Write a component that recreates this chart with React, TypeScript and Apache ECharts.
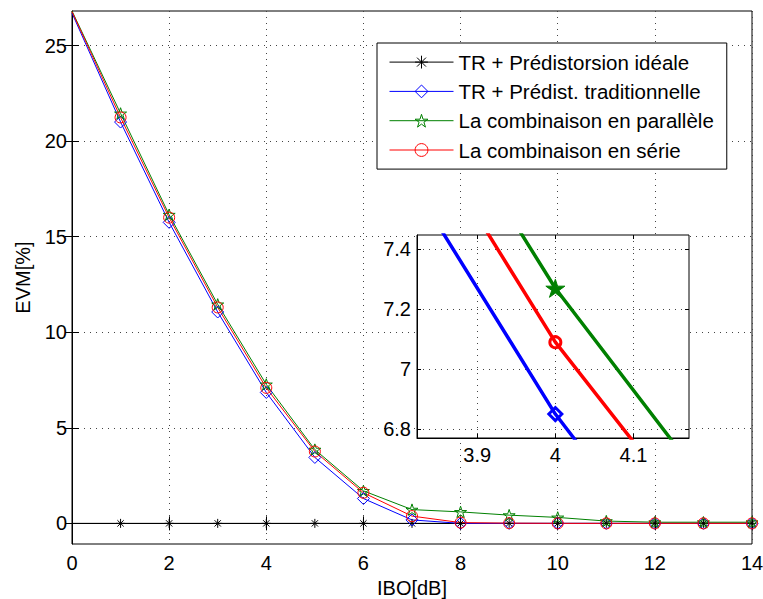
import React, { useEffect, useRef } from 'react';
import * as echarts from 'echarts';

const ibo = [0, 1, 2, 3, 4, 5, 6, 7, 8, 9, 10, 11, 12, 13, 14];
const idealEVM = [0, 0, 0, 0, 0, 0, 0, 0, 0, 0, 0, 0, 0, 0, 0];
const tradEVM = [26.7, 21.0, 15.75, 11.06, 6.85, 3.45, 1.3, 0.18, 0.0, 0, 0, 0, 0, 0, 0];
const parallelEVM = [26.81, 21.45, 16.15, 11.46, 7.27, 3.86, 1.7, 0.72, 0.6, 0.43, 0.31, 0.12, 0.06, 0.06, 0.06];
const serieEVM = [26.78, 21.24, 16.0, 11.3, 7.09, 3.76, 1.6, 0.38, 0.04, 0.01, 0, 0, 0, 0, 0];

const mainYTicks = [0, 5, 10, 15, 20, 25];
const insetXTicks = [3.9, 4, 4.1];
const insetYTicks = [6.8, 7, 7.2, 7.4];
const seriesNames = [
  'TR + Prédistorsion idéale',
  'TR + Prédist. traditionnelle',
  'La combinaison en parallèle',
  'La combinaison en série',
];
const xName = 'IBO[dB]';
const yName = 'EVM[%]';

const FONT = '"Liberation Sans", Arial, Helvetica, sans-serif';
const ASTERISK = 'path://M0,-1L0,1M-1,0L1,0M-0.7,-0.7L0.7,0.7M-0.7,0.7L0.7,-0.7';
const STAR = 'path://M0,-1L0.2245,-0.309L0.9511,-0.309L0.3633,0.118L0.5878,0.809L0,0.382L-0.5878,0.809L-0.3633,0.118L-0.9511,-0.309L-0.2245,-0.309Z';
const DIAMOND = 'path://M0,-1L1,0L0,1L-1,0Z';
const CIRCLE = 'circle';

const COLORS = ['#000000', '#0000ff', '#008000', '#ff0000'];
const SYMBOLS = [ASTERISK, DIAMOND, STAR, CIRCLE];
const SIZES = [9, 12, 12, 11];

// the first point sits on the axes' corner: MATLAB shows no marker there
const pairs = (ys: number[]) =>
  ibo.map((x, i) => (i === 0 ? { value: [x, ys[i]], symbol: 'none' } : [x, ys[i]]));

export default function App() {
  const ref = useRef<HTMLDivElement>(null);
  useEffect(() => {
    document.body.style.margin = '0';
    const chart = echarts.init(ref.current!, null, { renderer: 'svg' });
    const allData = [idealEVM, tradEVM, parallelEVM, serieEVM];

    const dotted = { color: '#444', width: 1, type: [1, 5] };

    const mainSeries = allData.map((ys, i) => ({
      type: 'line',
      name: seriesNames[i],
      data: pairs(ys),
      xAxisIndex: 0,
      yAxisIndex: 0,
      symbol: SYMBOLS[i],
      symbolSize: SIZES[i],
      symbolKeepAspect: true,
      showAllSymbol: true,
      lineStyle: { color: COLORS[i], width: 1 },
      itemStyle: { color: 'none', borderColor: COLORS[i], borderWidth: 1 },
      emphasis: { disabled: true },
      z: 2,
      clip: true,
    }));

    const insetStyles = [
      null,
      { symbol: DIAMOND, size: 13, item: { color: 'none', borderColor: COLORS[1], borderWidth: 3 } },
      { symbol: STAR, size: 19, item: { color: COLORS[2], borderColor: COLORS[2], borderWidth: 1 } },
      { symbol: CIRCLE, size: 11, item: { color: 'none', borderColor: COLORS[3], borderWidth: 3 } },
    ];
    const insetSeries = [1, 2, 3].map((i) => ({
      type: 'line',
      name: seriesNames[i],
      data: pairs(allData[i]),
      xAxisIndex: 2,
      yAxisIndex: 2,
      symbol: insetStyles[i]!.symbol,
      symbolSize: insetStyles[i]!.size,
      symbolKeepAspect: true,
      showAllSymbol: true,
      lineStyle: { color: COLORS[i], width: 3.5 },
      itemStyle: insetStyles[i]!.item,
      emphasis: { disabled: true },
      z: 12,
      clip: true,
    }));

    const labelStyle = { fontFamily: FONT, fontSize: 20, color: '#000' };

    chart.setOption({
      animation: false,
      grid: [
        {
          left: 72, top: 11, width: 680, height: 533,
          show: true, backgroundColor: '#fff', borderColor: '#000', borderWidth: 1,
          containLabel: false, outerBoundsMode: 'none', z: 0,
        },
        {
          left: 417, top: 235, width: 272, height: 203,
          show: true, backgroundColor: '#fff', borderColor: '#000', borderWidth: 1,
          containLabel: false, outerBoundsMode: 'none', z: 10,
        },
      ],
      legend: {
        orient: 'vertical',
        left: 377,
        top: 43,
        z: 20,
        itemWidth: 64,
        itemHeight: 16,
        itemGap: 8.3,
        padding: [8.6, 13, 8.6, 12],
        backgroundColor: '#fff',
        borderColor: '#000',
        borderWidth: 1,
        borderRadius: 0,
        selectedMode: false,
        textStyle: { fontFamily: FONT, fontSize: 20.5, color: '#000', lineHeight: 20 },
        data: seriesNames.map((n, i) => ({
          name: n,
          itemStyle: { color: 'none', borderColor: COLORS[i], borderWidth: 1 },
          lineStyle: { color: COLORS[i], width: 1 },
        })),
      },
      xAxis: [
        {
          type: 'value', gridIndex: 0, min: 0, max: 14, interval: 2, position: 'bottom',
          name: xName, nameLocation: 'middle', nameGap: 31, nameTextStyle: labelStyle,
          axisLine: { show: true, lineStyle: { color: '#000', width: 1 } },
          axisTick: { show: true, inside: true, length: 7, lineStyle: { color: '#000' } },
          axisLabel: { ...labelStyle, margin: 9 },
          splitLine: { show: true, lineStyle: dotted },
        },
        {
          type: 'value', gridIndex: 0, min: 0, max: 14, interval: 2, position: 'top',
          axisLine: { show: false },
          axisTick: { show: true, inside: true, length: 7, lineStyle: { color: '#000' } },
          axisLabel: { show: false },
          splitLine: { show: false },
        },
        {
          type: 'value', gridIndex: 1, min: 3.823, max: 4.171, position: 'bottom', z: 11,
          axisLine: { show: true, lineStyle: { color: '#000', width: 1 } },
          axisTick: { show: true, inside: true, length: 4, customValues: insetXTicks, lineStyle: { color: '#000' } },
          axisLabel: { ...labelStyle, margin: 7, customValues: insetXTicks },
          splitLine: { show: true, lineStyle: dotted },
        },
        {
          type: 'value', gridIndex: 1, min: 3.823, max: 4.171, position: 'top', z: 11,
          axisLine: { show: false },
          axisTick: { show: true, inside: true, length: 4, customValues: insetXTicks, lineStyle: { color: '#000' } },
          axisLabel: { show: false },
          splitLine: { show: false },
        },
      ],
      yAxis: [
        {
          type: 'value', gridIndex: 0, min: -1.08, max: 26.81, position: 'left',
          name: yName, nameLocation: 'middle', nameGap: 39, nameTextStyle: labelStyle,
          axisLine: { show: true, lineStyle: { color: '#000', width: 1 } },
          axisTick: { show: true, inside: true, length: 7, customValues: mainYTicks, lineStyle: { color: '#000' } },
          axisLabel: { ...labelStyle, margin: 5, customValues: mainYTicks },
          splitLine: { show: true, lineStyle: dotted },
        },
        {
          type: 'value', gridIndex: 0, min: -1.08, max: 26.81, position: 'right',
          axisLine: { show: false },
          axisTick: { show: true, inside: true, length: 7, customValues: mainYTicks, lineStyle: { color: '#000' } },
          axisLabel: { show: false },
          splitLine: { show: false },
        },
        {
          type: 'value', gridIndex: 1, min: 6.77, max: 7.448, position: 'left', z: 11,
          axisLine: { show: true, lineStyle: { color: '#000', width: 1 } },
          axisTick: { show: true, inside: true, length: 4, customValues: insetYTicks, lineStyle: { color: '#000' } },
          axisLabel: { ...labelStyle, margin: 6, customValues: insetYTicks },
          splitLine: { show: true, lineStyle: dotted },
        },
        {
          type: 'value', gridIndex: 1, min: 6.77, max: 7.448, position: 'right', z: 11,
          axisLine: { show: false },
          axisTick: { show: true, inside: true, length: 4, customValues: insetYTicks, lineStyle: { color: '#000' } },
          axisLabel: { show: false },
          splitLine: { show: false },
        },
      ],
      series: [...mainSeries, ...insetSeries],
    });
    return () => chart.dispose();
  }, []);
  return <div ref={ref} style={{ width: 763, height: 599 }} />;
}
